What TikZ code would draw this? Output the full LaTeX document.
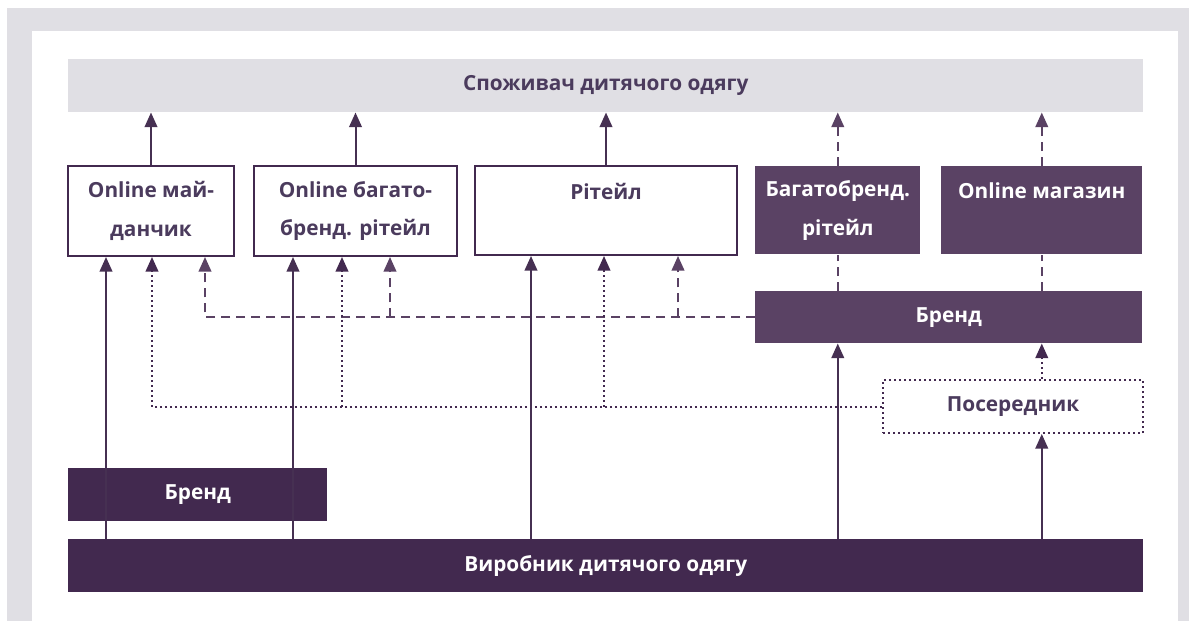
\documentclass[tikz,border=0pt]{standalone}
\usepackage{fontspec}
\setmainfont{Open Sans}
\usetikzlibrary{arrows.meta}
\definecolor{frame}{HTML}{E0DFE4}
\definecolor{dkp}{HTML}{42294F}
\definecolor{mdp}{HTML}{5A4264}
\definecolor{txp}{HTML}{4B3B5D}
\definecolor{lnp}{HTML}{463052}
\tikzset{
  lbl/.style={font=\fontsize{15.6}{29}\selectfont\bfseries, align=center},
  wbox/.style={lbl, draw=dkp, line width=1.5pt, fill=white, text=txp, inner sep=0pt},
  pbox/.style={lbl, fill=mdp, text=white, inner sep=0pt},
  dbox/.style={lbl, fill=dkp, text=white, inner sep=0pt},
  solarr/.style={draw=lnp, line width=1.5pt, -{Triangle[length=11pt,width=9.5pt]}},
  dasharr/.style={draw=mdp, line width=1.5pt, dash pattern=on 6.75pt off 4.5pt, -{Triangle[length=11pt,width=9.5pt]}},
  dashln/.style={draw=mdp, line width=1.5pt, dash pattern=on 6.75pt off 4.5pt},
  dotarr/.style={draw=dkp, line width=1.5pt, dash pattern=on 1.5pt off 2.25pt, -{Triangle[length=11pt,width=9.5pt]}},
}
\begin{document}
\begin{tikzpicture}[x=0.75pt, y=-0.75pt]
\useasboundingbox (0,0) rectangle (1189,621);
\fill[frame] (7,8) rectangle (1189,621);
\fill[white] (32,31) rectangle (1178,621);

% top consumer box
\node[lbl, fill=frame, text=txp, inner sep=0pt, minimum width={1075*0.75pt}, minimum height={53*0.75pt}, anchor=north west] (cons) at (68,59) {Споживач дитячого одягу};

% middle boxes
\node[wbox, minimum width={166*0.75pt}, minimum height={90*0.75pt}, anchor=north west] (m1) at (67,165) {Online май-\\данчик};
\node[wbox, minimum width={203*0.75pt}, minimum height={90*0.75pt}, anchor=north west] (m2) at (253,165) {Online багато-\\бренд. рітейл};
\node[wbox, minimum width={262*0.75pt}, minimum height={89*0.75pt}, anchor=north west] (m3) at (474,165) {Рітейл\\\phantom{x}};
\node[pbox, minimum width={165*0.75pt}, minimum height={88*0.75pt}, anchor=north west] (m4) at (755,166) {Багатобренд.\\рітейл};
\node[pbox, minimum width={201*0.75pt}, minimum height={88*0.75pt}, anchor=north west] (m5) at (941,166) {Online магазин\\\phantom{x}};

% right brand
\node[pbox, minimum width={387*0.75pt}, minimum height={52*0.75pt}, anchor=north west] (brandR) at (755,291) {Бренд};

% intermediary
\node[lbl, draw=dkp, line width=1.5pt, dash pattern=on 1.5pt off 2.25pt, text=txp, inner sep=0pt, minimum width={260*0.75pt}, minimum height={53*0.75pt}, anchor=north west] (pos) at (882,379) {Посередник};

% producer
\node[dbox, minimum width={1075*0.75pt}, minimum height={53*0.75pt}, anchor=north west] (prod) at (68,539) {Виробник дитячого одягу};

% left brand
\node[dbox, minimum width={259*0.75pt}, minimum height={53*0.75pt}, anchor=north west] (brandL) at (68,468) {Бренд};

% x positions
\coordinate (s1) at (106,0);
\coordinate (s2) at (293,0);
\coordinate (s3) at (531,0);
\coordinate (o1) at (152,0);
\coordinate (o2) at (342,0);
\coordinate (o3) at (604,0);
\coordinate (d1) at (205,0);
\coordinate (d2) at (390,0);
\coordinate (d3) at (678,0);

% top arrows
\draw[solarr] (m1.north) -- (m1.north |- cons.south);
\draw[solarr] (m2.north) -- (m2.north |- cons.south);
\draw[solarr] (m3.north) -- (m3.north |- cons.south);
\draw[dasharr] (m4.north) -- (m4.north |- cons.south);
\draw[dasharr] (m5.north) -- (m5.north |- cons.south);

% brand to multi-brand / online store
\draw[dashln] (m4.south |- brandR.north) -- (m4.south);
\draw[dashln] (m5.south |- brandR.north) -- (m5.south);

% dashed from right brand to left boxes
\draw[dasharr] (brandR.west) -| (d1 |- m1.south);
\draw[dasharr] (d2 |- brandR.west) -- (d2 |- m2.south);
\draw[dasharr] (d3 |- brandR.west) -- (d3 |- m3.south);

% dotted from intermediary
\draw[dotarr] (pos.west) -| (o1 |- m1.south);
\draw[dotarr] (o2 |- pos.west) -- (o2 |- m2.south);
\draw[dotarr] (o3 |- pos.west) -- (o3 |- m3.south);
\draw[dotarr] (m5.south |- pos.north) -- (m5.south |- brandR.south);

% solid from producer
\draw[solarr] (s1 |- prod.north) -- (s1 |- m1.south);
\draw[solarr] (s2 |- prod.north) -- (s2 |- m2.south);
\draw[solarr] (s3 |- prod.north) -- (s3 |- m3.south);
\draw[solarr] (m4.south |- prod.north) -- (m4.south |- brandR.south);
\draw[solarr] (m5.south |- prod.north) -- (m5.south |- pos.south);
\end{tikzpicture}
\end{document}
